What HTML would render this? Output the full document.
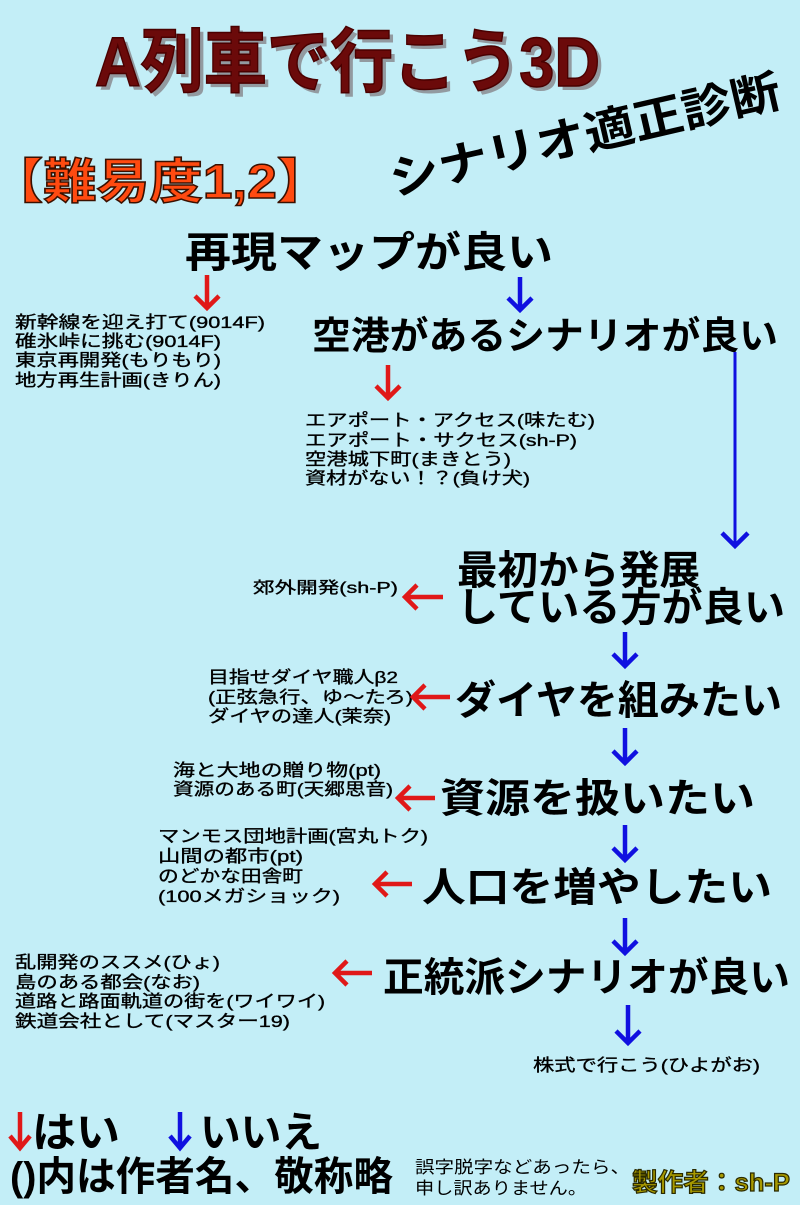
<!DOCTYPE html>
<html><head><meta charset="utf-8">
<style>
html,body{margin:0;padding:0;background:#c3eef7;}
svg{display:block;font-family:"Liberation Sans","Noto Sans CJK JP",sans-serif;}
</style></head><body>
<svg width="800" height="1205" viewBox="0 0 800 1205" xmlns="http://www.w3.org/2000/svg">
<rect width="800" height="1205" fill="#c3eef7"/>
<!-- title -->
<text x="99" y="90" font-size="70" font-weight="bold" fill="#3a0000" opacity="0.35" textLength="505" lengthAdjust="spacingAndGlyphs">A列車で行こう3D</text>
<text x="95" y="86" font-size="70" font-weight="bold" fill="#6b0a0a" stroke="#4a0000" stroke-width="1.5" textLength="505" lengthAdjust="spacingAndGlyphs">A列車で行こう3D</text>
<g transform="translate(585,135) rotate(-13)">
<text x="0" y="16" font-size="46" font-weight="bold" fill="#000" text-anchor="middle" textLength="400" lengthAdjust="spacingAndGlyphs">シナリオ適正診断</text>
</g>
<text x="-10" y="198" font-size="48" font-weight="bold" fill="#ff4a10" stroke="#3a1000" stroke-width="1.5" textLength="340" lengthAdjust="spacingAndGlyphs">【難易度1,2】</text>

<g fill="#000">
<text x="185" y="267" font-size="42" font-weight="bold" textLength="368" lengthAdjust="spacingAndGlyphs">再現マップが良い</text>
<g font-size="17" stroke="#000" stroke-width="0.35">
<text x="15" y="328" textLength="250" lengthAdjust="spacingAndGlyphs">新幹線を迎え打て(9014F)</text>
<text x="15" y="347" textLength="206" lengthAdjust="spacingAndGlyphs">碓氷峠に挑む(9014F)</text>
<text x="15" y="366" textLength="206" lengthAdjust="spacingAndGlyphs">東京再開発(もりもり)</text>
<text x="15" y="386" textLength="206" lengthAdjust="spacingAndGlyphs">地方再生計画(きりん)</text>
</g>
<text x="312" y="349" font-size="38" font-weight="bold" textLength="466" lengthAdjust="spacingAndGlyphs">空港があるシナリオが良い</text>
<g font-size="17" stroke="#000" stroke-width="0.35">
<text x="305" y="426" textLength="290" lengthAdjust="spacingAndGlyphs">エアポート・アクセス(味たむ)</text>
<text x="305" y="446" textLength="272" lengthAdjust="spacingAndGlyphs">エアポート・サクセス(sh-P)</text>
<text x="305" y="465" textLength="206" lengthAdjust="spacingAndGlyphs">空港城下町(まきとう)</text>
<text x="305" y="484" textLength="225" lengthAdjust="spacingAndGlyphs">資材がない！？(負け犬)</text>
</g>
<text x="457" y="584" font-size="40" font-weight="bold" textLength="243" lengthAdjust="spacingAndGlyphs">最初から発展</text>
<text x="457" y="621" font-size="40" font-weight="bold" textLength="328" lengthAdjust="spacingAndGlyphs">している方が良い</text>
<g font-size="17" stroke="#000" stroke-width="0.35">
<text x="253" y="593" font-size="16" textLength="145" lengthAdjust="spacingAndGlyphs">郊外開発(sh-P)</text>
<text x="208" y="683" textLength="190" lengthAdjust="spacingAndGlyphs">目指せダイヤ職人β2</text>
<text x="208" y="703" textLength="205" lengthAdjust="spacingAndGlyphs">(正弦急行、ゆ〜たろ)</text>
<text x="208" y="722" textLength="183" lengthAdjust="spacingAndGlyphs">ダイヤの達人(茉奈)</text>
<text x="173" y="776" textLength="208" lengthAdjust="spacingAndGlyphs">海と大地の贈り物(pt)</text>
<text x="173" y="795" textLength="220" lengthAdjust="spacingAndGlyphs">資源のある町(天郷思音)</text>
<text x="158" y="842" textLength="270" lengthAdjust="spacingAndGlyphs">マンモス団地計画(宮丸トク)</text>
<text x="158" y="862" textLength="145" lengthAdjust="spacingAndGlyphs">山間の都市(pt)</text>
<text x="158" y="882" textLength="145" lengthAdjust="spacingAndGlyphs">のどかな田舎町</text>
<text x="158" y="902" textLength="182" lengthAdjust="spacingAndGlyphs">(100メガショック)</text>
<text x="15" y="968" textLength="205" lengthAdjust="spacingAndGlyphs">乱開発のススメ(ひょ)</text>
<text x="15" y="988" textLength="185" lengthAdjust="spacingAndGlyphs">島のある都会(なお)</text>
<text x="15" y="1007" textLength="310" lengthAdjust="spacingAndGlyphs">道路と路面軌道の街を(ワイワイ)</text>
<text x="15" y="1027" textLength="275" lengthAdjust="spacingAndGlyphs">鉄道会社として(マスター19)</text>
<text x="533" y="1071" textLength="227" lengthAdjust="spacingAndGlyphs">株式で行こう(ひよがお)</text>
</g>
<text x="455" y="714" font-size="40" font-weight="bold" textLength="327" lengthAdjust="spacingAndGlyphs">ダイヤを組みたい</text>
<text x="440" y="812" font-size="40" font-weight="bold" textLength="315" lengthAdjust="spacingAndGlyphs">資源を扱いたい</text>
<text x="422" y="901" font-size="40" font-weight="bold" textLength="350" lengthAdjust="spacingAndGlyphs">人口を増やしたい</text>
<text x="383" y="991" font-size="40" font-weight="bold" textLength="407" lengthAdjust="spacingAndGlyphs">正統派シナリオが良い</text>

<text x="32" y="1147" font-size="42" font-weight="bold" textLength="88" lengthAdjust="spacingAndGlyphs">はい</text>
<text x="200" y="1147" font-size="42" font-weight="bold" textLength="122" lengthAdjust="spacingAndGlyphs">いいえ</text>
<text x="10" y="1190" font-size="40" font-weight="bold" textLength="383" lengthAdjust="spacingAndGlyphs">()内は作者名、敬称略</text>
<text x="415" y="1173" font-size="17" textLength="215" lengthAdjust="spacingAndGlyphs">誤字脱字などあったら、</text>
<text x="415" y="1194" font-size="17" textLength="172" lengthAdjust="spacingAndGlyphs">申し訳ありません。</text>
</g>
<text x="632" y="1191" font-size="25" font-weight="bold" fill="#a89a00" stroke="#2a2a00" stroke-width="1.2" textLength="158" lengthAdjust="spacingAndGlyphs">製作者：sh-P</text>

<!-- arrows -->
<g fill="none" stroke-width="4.5" stroke-linecap="butt">
<g stroke="#e01818">
<path d="M207 275V308M195 296L207 308L219 296"/>
<path d="M388 365V398M376 386L388 398L400 386"/>
<path d="M405 597H443M417 585L405 597L417 609"/>
<path d="M413 697H450M425 685L413 697L425 709"/>
<path d="M398 798H435M410 786L398 798L410 810"/>
<path d="M375 884H412M387 872L375 884L387 896"/>
<path d="M335 973H372M347 961L335 973L347 985"/>
<path d="M20 1112V1148M10 1136L20 1148L30 1136"/>
</g>
<g stroke="#1010e0">
<path d="M520 277V310M508 298L520 310L532 298"/>
<path d="M735 352V546" stroke-width="3"/>
<path d="M722 533L735 546L748 533"/>
<path d="M625 632V666M613 654L625 666L637 654"/>
<path d="M625 728V763M613 751L625 763L637 751"/>
<path d="M625 825V860M613 848L625 860L637 848"/>
<path d="M625 918V953M613 941L625 953L637 941"/>
<path d="M628 1005V1043M616 1031L628 1043L640 1031"/>
<path d="M180 1112V1148M170 1136L180 1148L190 1136"/>
</g>
</g>
</svg>
</body></html>
